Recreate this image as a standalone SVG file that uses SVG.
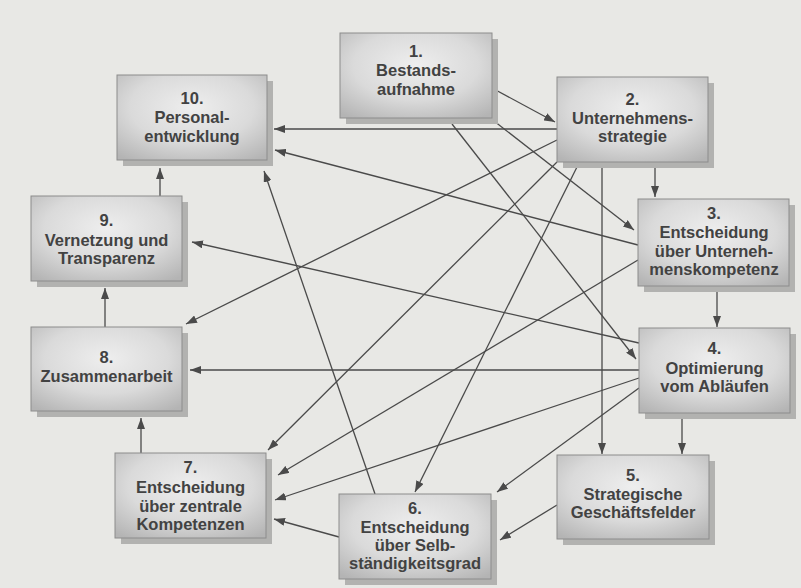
<svg xmlns="http://www.w3.org/2000/svg" width="801" height="588" viewBox="0 0 801 588">
  <defs>
    <radialGradient id="boxFill" cx="50%" cy="38%" r="75%">
      <stop offset="0" stop-color="#eeeeee"/>
      <stop offset="0.55" stop-color="#dadada"/>
      <stop offset="1" stop-color="#b4b4b4"/>
    </radialGradient>
    <marker id="arrow" markerUnits="userSpaceOnUse" markerWidth="11" markerHeight="8" refX="11" refY="4" orient="auto">
      <path d="M0,0 L11,4 L0,8 z" fill="#4a4a4a"/>
    </marker>
  </defs>
  <style>
    .bg { fill: #e8e8e5; }
    .shadow { fill: #b2b2b0; }
    .box { fill: url(#boxFill); stroke: #8c8c8c; stroke-width: 1; }
    .label { font-family: "Liberation Sans", Arial, sans-serif; font-weight: bold; font-size: 16.5px; fill: #424242; text-anchor: middle; }
    .conn line { stroke: #4a4a4a; stroke-width: 1.3; fill: none; marker-end: url(#arrow); }
  </style>

  <rect class="bg" x="0" y="0" width="801" height="588"/>

  <!-- connectors -->
  <g id="connectors" class="conn">
    <line x1="492" y1="88" x2="555" y2="122"/>
    <line x1="494" y1="121" x2="634" y2="230"/>
    <line x1="452" y1="124" x2="636" y2="359"/>
    <line x1="557" y1="129" x2="274" y2="129"/>
    <line x1="655" y1="165" x2="655" y2="197"/>
    <line x1="602" y1="165" x2="602" y2="454"/>
    <line x1="557" y1="140" x2="186" y2="324"/>
    <line x1="557" y1="162" x2="268" y2="450"/>
    <line x1="577" y1="167" x2="415" y2="492"/>
    <line x1="638" y1="245" x2="275" y2="150"/>
    <line x1="717" y1="290" x2="717" y2="327"/>
    <line x1="638" y1="260" x2="278" y2="475"/>
    <line x1="639" y1="343" x2="192" y2="242"/>
    <line x1="639" y1="370" x2="190" y2="370"/>
    <line x1="639" y1="378" x2="275" y2="500"/>
    <line x1="639" y1="388" x2="497" y2="492"/>
    <line x1="682" y1="416" x2="682" y2="454"/>
    <line x1="557" y1="505" x2="500" y2="540"/>
    <line x1="375" y1="494" x2="264" y2="171"/>
    <line x1="339" y1="537" x2="274" y2="519"/>
    <line x1="141" y1="453" x2="141" y2="418"/>
    <line x1="105" y1="327" x2="105" y2="288"/>
    <line x1="160" y1="196" x2="160" y2="168"/>
  </g>

  <!-- 1 -->
  <g id="node1">
    <rect class="shadow" x="346" y="39" width="152" height="85"/>
    <rect class="box" x="340" y="33" width="152" height="85"/>
    <text class="label" x="416" y="57">1.</text>
    <text class="label" x="416" y="76">Bestands-</text>
    <text class="label" x="416" y="95">aufnahme</text>
  </g>

  <!-- 2 -->
  <g id="node2">
    <rect class="shadow" x="563" y="83" width="151" height="85"/>
    <rect class="box" x="557" y="77" width="151" height="85"/>
    <text class="label" x="632.5" y="105">2.</text>
    <text class="label" x="632.5" y="124">Unternehmens-</text>
    <text class="label" x="632.5" y="142">strategie</text>
  </g>

  <!-- 3 -->
  <g id="node3">
    <rect class="shadow" x="644" y="205" width="151" height="87"/>
    <rect class="box" x="638" y="199" width="151" height="87"/>
    <text class="label" x="714" y="219">3.</text>
    <text class="label" x="714" y="238">Entscheidung</text>
    <text class="label" x="714" y="257">über Unterneh-</text>
    <text class="label" x="714" y="275">menskompetenz</text>
  </g>

  <!-- 4 -->
  <g id="node4">
    <rect class="shadow" x="645" y="334" width="151" height="85"/>
    <rect class="box" x="639" y="328" width="151" height="85"/>
    <text class="label" x="714.5" y="354">4.</text>
    <text class="label" x="714.5" y="374">Optimierung</text>
    <text class="label" x="714.5" y="392">vom Abläufen</text>
  </g>

  <!-- 5 -->
  <g id="node5">
    <rect class="shadow" x="563" y="461" width="152" height="84"/>
    <rect class="box" x="557" y="455" width="152" height="84"/>
    <text class="label" x="633" y="481">5.</text>
    <text class="label" x="633" y="500">Strategische</text>
    <text class="label" x="633" y="518">Geschäftsfelder</text>
  </g>

  <!-- 6 -->
  <g id="node6">
    <rect class="shadow" x="345" y="500" width="152" height="85"/>
    <rect class="box" x="339" y="494" width="152" height="85"/>
    <text class="label" x="415" y="514">6.</text>
    <text class="label" x="415" y="533">Entscheidung</text>
    <text class="label" x="415" y="551">über Selb-</text>
    <text class="label" x="415" y="569">ständigkeitsgrad</text>
  </g>

  <!-- 7 -->
  <g id="node7">
    <rect class="shadow" x="121" y="459" width="151" height="85"/>
    <rect class="box" x="115" y="453" width="151" height="85"/>
    <text class="label" x="190.5" y="473">7.</text>
    <text class="label" x="190.5" y="493">Entscheidung</text>
    <text class="label" x="190.5" y="512">über zentrale</text>
    <text class="label" x="190.5" y="530">Kompetenzen</text>
  </g>

  <!-- 8 -->
  <g id="node8">
    <rect class="shadow" x="37" y="333" width="151" height="84"/>
    <rect class="box" x="31" y="327" width="151" height="84"/>
    <text class="label" x="106.5" y="363">8.</text>
    <text class="label" x="106.5" y="382">Zusammenarbeit</text>
  </g>

  <!-- 9 -->
  <g id="node9">
    <rect class="shadow" x="37" y="202" width="151" height="85"/>
    <rect class="box" x="31" y="196" width="151" height="85"/>
    <text class="label" x="106.5" y="226">9.</text>
    <text class="label" x="106.5" y="246">Vernetzung und</text>
    <text class="label" x="106.5" y="264">Transparenz</text>
  </g>

  <!-- 10 -->
  <g id="node10">
    <rect class="shadow" x="123" y="81" width="150" height="85"/>
    <rect class="box" x="117" y="75" width="150" height="85"/>
    <text class="label" x="192" y="104">10.</text>
    <text class="label" x="192" y="123">Personal-</text>
    <text class="label" x="192" y="142">entwicklung</text>
  </g>
</svg>
